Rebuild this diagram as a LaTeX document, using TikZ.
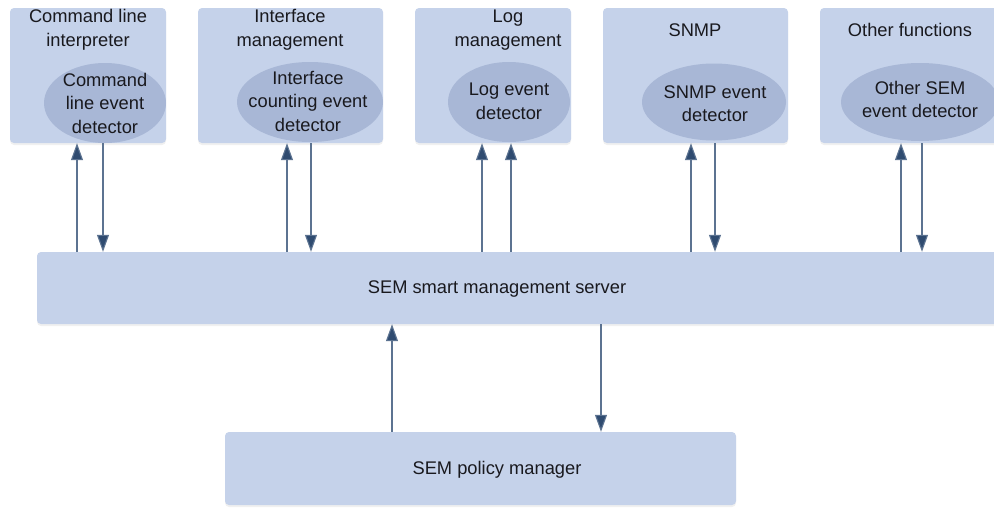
\documentclass[tikz,border=0pt]{standalone}
\usepackage{fontspec}
\setmainfont{Liberation Sans}
\usetikzlibrary{arrows.meta, positioning, calc, shadows, shapes.geometric}
\definecolor{boxblue}{RGB}{197, 210, 234}
\definecolor{ovalblue}{RGB}{168, 183, 214}
\definecolor{arrline}{RGB}{92, 115, 145}
\definecolor{arrhead}{RGB}{47, 75, 112}
\definecolor{txtdark}{RGB}{25, 25, 30}

\begin{document}
\begin{tikzpicture}[x=1pt, y=-1pt,
  every node/.style={font=\fontsize{18.3}{23.5}\selectfont, text=txtdark, align=center, inner sep=0pt},
  unit/.style={fill=boxblue, rounded corners=4pt, drop shadow={shadow xshift=0pt, shadow yshift=-2pt, opacity=0.12}},
  oval/.style={ellipse, fill=ovalblue},
  arr/.style={-{Triangle[length=17pt, width=12pt, fill=arrhead]}, arrline, line width=1.1pt}
]
  \useasboundingbox (0,0) rectangle (994,507);

  % function blocks
  \node[unit, minimum width=156, minimum height=135] (cli)  at (88, 75.5)    {};
  \node[unit, minimum width=185, minimum height=135] (intf) at (290.5, 75.5) {};
  \node[unit, minimum width=156, minimum height=135] (log)  at (493, 75.5)   {};
  \node[unit, minimum width=185, minimum height=135] (snmp) at (695.5, 75.5) {};
  \node[unit, minimum width=190, minimum height=135] (oth)  at (915, 75.5)   {};

  \node (clit)  at (88, 30)  {Command line\\interpreter};
  \node (intft) at (290, 30) {Interface\\management};
  \node (logt)  at (508, 30) {Log\\management};
  \node (snmpt) at (695, 30) {SNMP};
  \node (otht)  at (910, 30) {Other functions};

  % event detectors
  \node[oval, minimum width=122, minimum height=80] (clid)  at (105, 103) {};
  \node[oval, minimum width=146, minimum height=80] (intfd) at (310, 102) {};
  \node[oval, minimum width=122, minimum height=80] (logd)  at (509, 102) {};
  \node[oval, minimum width=144, minimum height=77] (snmpd) at (714, 102) {};
  \node[oval, minimum width=158, minimum height=78] (othd)  at (920, 102) {};

  \node at (clid)  {Command\\line event\\detector};
  \node at ([xshift=-2pt, yshift=1pt]intfd) {Interface\\counting event\\detector};
  \node at ([yshift=0.5pt]logd)  {Log event\\detector};
  \node at ([xshift=1pt, yshift=-1.5pt]snmpd) {SNMP event\\detector};
  \node at ([yshift=2.5pt]othd)  {Other SEM\\event detector};

  % server and policy manager
  \node[unit, minimum width=973, minimum height=72] (srv) at (523.5, 288)   {};
  \node[unit, minimum width=511, minimum height=73] (pol) at (480.5, 468.5) {};
  \node (srvt) at (497, 289) {SEM smart management server};
  \node (polt) at (497, 470) {SEM policy manager};

  \draw[arr] ([xshift=-446.5pt]srv.north) -- ([xshift=-11pt]cli.south);
  \draw[arr] ([xshift=15pt]cli.south) -- ([xshift=-420.5pt]srv.north);
  \draw[arr] ([xshift=-236.5pt]srv.north) -- ([xshift=-3.5pt]intf.south);
  \draw[arr] ([xshift=20.5pt]intf.south) -- ([xshift=-212.5pt]srv.north);
  \draw[arr] ([xshift=-41.5pt]srv.north) -- ([xshift=-11pt]log.south);
  \draw[arr] ([xshift=-12.5pt]srv.north) -- ([xshift=18pt]log.south);
  \draw[arr] ([xshift=167.5pt]srv.north) -- ([xshift=-4.5pt]snmp.south);
  \draw[arr] ([xshift=19.5pt]snmp.south) -- ([xshift=191.5pt]srv.north);
  \draw[arr] ([xshift=377.5pt]srv.north) -- ([xshift=-14pt]oth.south);
  \draw[arr] ([xshift=7pt]oth.south) -- ([xshift=398.5pt]srv.north);

  \draw[arr] ([xshift=-88.5pt]pol.north) -- ([xshift=-131.5pt]srv.south);
  \draw[arr] ([xshift=77.5pt]srv.south) -- ([xshift=120.5pt]pol.north);
\end{tikzpicture}
\end{document}
